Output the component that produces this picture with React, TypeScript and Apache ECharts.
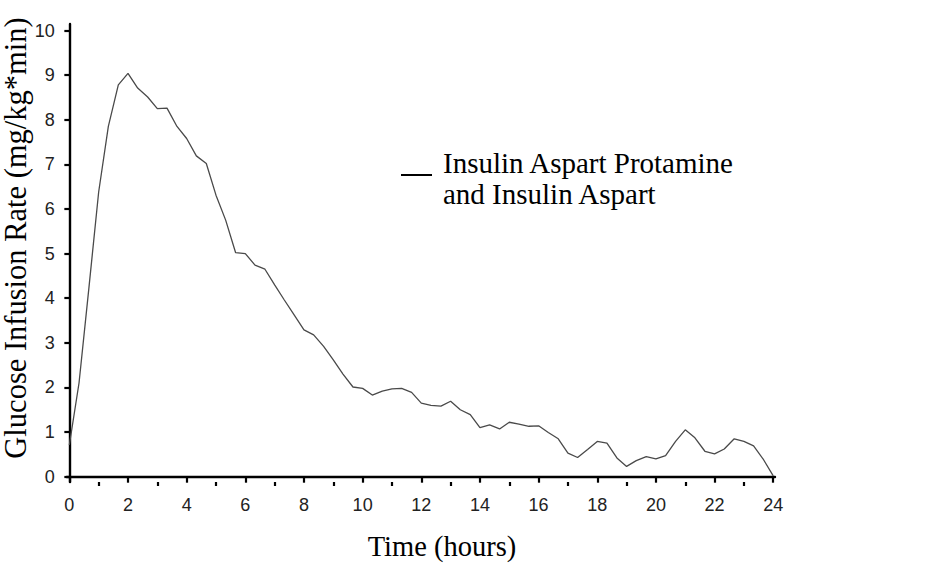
import React, { useEffect, useRef } from "react";
import * as echarts from "echarts";

const HOURS = [
  0, 0.33, 0.67, 1, 1.33, 1.67, 2, 2.33, 2.67, 3, 3.33, 3.67, 4, 4.33, 4.67, 5, 5.33, 5.67,
  6, 6.33, 6.67, 7, 7.33, 7.67, 8, 8.33, 8.67, 9, 9.33, 9.67, 10, 10.33, 10.67, 11, 11.33, 11.67,
  12, 12.33, 12.67, 13, 13.33, 13.67, 14, 14.33, 14.67, 15, 15.33, 15.67, 16, 16.33, 16.67, 17, 17.33, 17.67,
  18, 18.33, 18.67, 19, 19.33, 19.67, 20, 20.33, 20.67, 21, 21.33, 21.67, 22, 22.33, 22.67, 23, 23.33, 23.67, 24,
];

const GIR = [
  0.71, 2.1, 4.25, 6.38, 7.85, 8.78, 9.04, 8.71, 8.51, 8.25, 8.26, 7.85, 7.58, 7.19, 7.02, 6.31, 5.75, 5.02,
  5.0, 4.74, 4.65, 4.3, 3.96, 3.62, 3.29, 3.18, 2.92, 2.62, 2.3, 2.01, 1.98, 1.83, 1.92, 1.97, 1.98, 1.89,
  1.65, 1.6, 1.58, 1.69, 1.5, 1.39, 1.1, 1.16, 1.07, 1.22, 1.18, 1.13, 1.14, 0.99, 0.85, 0.53, 0.43, 0.61,
  0.79, 0.75, 0.42, 0.23, 0.36, 0.45, 0.4, 0.47, 0.79, 1.05, 0.87, 0.57, 0.51, 0.62, 0.85, 0.79, 0.69, 0.38, 0.02,
];

const Y_TICKS = [0, 1, 2, 3, 4, 5, 6, 7, 8, 9, 10];
const X_LABELS = [0, 2, 4, 6, 8, 10, 12, 14, 16, 18, 20, 22, 24];
const X_MINOR = [1, 3, 5, 7, 9, 11, 13, 15, 17, 19, 21, 23];

const SERIES_NAME = ["Insulin Aspart Protamine", "and Insulin Aspart"];
const X_TITLE = "Time (hours)";
const Y_TITLE = "Glucose Infusion Rate (mg/kg*min)";

const TICK_FONT = "'Liberation Sans Narrow', 'Arial Narrow', 'Liberation Sans', Arial, sans-serif";
const SERIF = "'Liberation Serif', 'Times New Roman', serif";

export default function App() {
  const ref = useRef<HTMLDivElement>(null);

  useEffect(() => {
    if (!ref.current) return;
    const chart = echarts.init(ref.current, undefined, { renderer: "svg" });
    const axisColor = "#000";
    chart.setOption({
      animation: false,
      backgroundColor: "#fff",
      grid: { left: 66.7, right: 152, top: 24, bottom: 81, containLabel: false },
      xAxis: [
        {
          type: "value",
          min: -0.09,
          max: 24.06,
          position: "bottom",
          axisLine: { show: true, lineStyle: { color: axisColor, width: 2.4 } },
          axisTick: { show: true, customValues: X_LABELS, length: 6, lineStyle: { color: axisColor, width: 2.2 } },
          axisLabel: {
            customValues: X_LABELS,
            margin: 14,
            color: "#222",
            fontSize: 18,
            fontFamily: TICK_FONT,
          },
          splitLine: { show: false },
        },
        {
          type: "value",
          min: -0.09,
          max: 24.06,
          position: "bottom",
          axisLine: { show: false },
          axisTick: { show: true, customValues: X_MINOR, length: 4, lineStyle: { color: axisColor, width: 2.2 } },
          axisLabel: { show: false },
          splitLine: { show: false },
        },
      ],
      yAxis: {
        type: "value",
        min: -0.119,
        max: 10.146,
        axisLine: { show: true, lineStyle: { color: axisColor, width: 2.4 } },
        axisTick: { show: true, customValues: Y_TICKS, length: 5, lineStyle: { color: axisColor, width: 2.2 } },
        axisLabel: {
          customValues: Y_TICKS,
          margin: 12,
          color: "#222",
          fontSize: 18,
          fontFamily: TICK_FONT,
        },
        splitLine: { show: false },
      },
      series: [
        {
          name: SERIES_NAME.join(" "),
          type: "line",
          xAxisIndex: 0,
          showSymbol: false,
          symbol: "none",
          data: HOURS.map((h, i) => [h, GIR[i]]),
          lineStyle: { color: "#4a4a4a", width: 1.3 },
        },
      ],
      graphic: [
        {
          type: "text",
          x: 442,
          y: 546,
          style: {
            text: X_TITLE,
            fontFamily: SERIF,
            fontSize: 28.5,
            fill: "#000",
            textAlign: "center",
            textVerticalAlign: "middle",
          },
        },
        {
          type: "text",
          x: 16,
          y: 238,
          rotation: Math.PI / 2,
          style: {
            text: Y_TITLE,
            fontFamily: SERIF,
            fontSize: 30.5,
            fill: "#000",
            textAlign: "center",
            textVerticalAlign: "middle",
          },
        },
        {
          type: "line",
          shape: { x1: 401, y1: 175, x2: 432, y2: 175 },
          style: { stroke: "#000", lineWidth: 2 },
        },
        {
          type: "text",
          x: 443,
          y: 163,
          style: {
            text: SERIES_NAME[0],
            fontFamily: SERIF,
            fontSize: 29,
            fill: "#000",
            textAlign: "left",
            textVerticalAlign: "middle",
          },
        },
        {
          type: "text",
          x: 443,
          y: 194,
          style: {
            text: SERIES_NAME[1],
            fontFamily: SERIF,
            fontSize: 29,
            fill: "#000",
            textAlign: "left",
            textVerticalAlign: "middle",
          },
        },
      ],
    });
    return () => chart.dispose();
  }, []);

  return (
    <div
      ref={ref}
      style={{ position: "fixed", left: 0, top: 0, width: 927, height: 563, background: "#fff" }}
    />
  );
}
